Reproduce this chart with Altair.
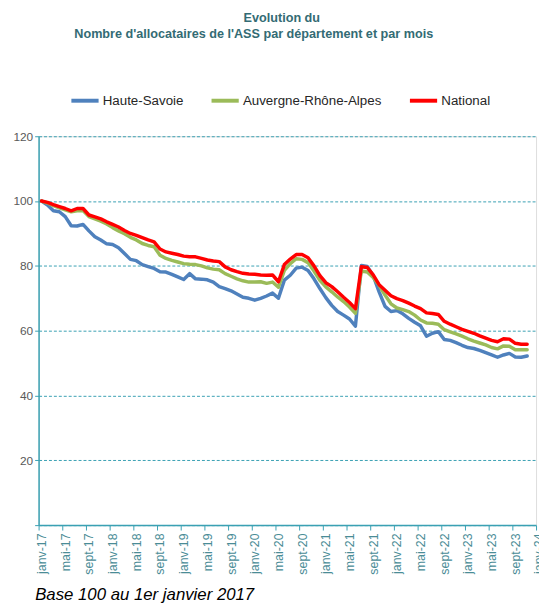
import altair as alt
import pandas as pd

title_lines = ["\u200b" + "\u00a0" * 16 + "Evolution du",
               "Nombre d'allocataires de l'ASS par département et par mois"]
footnote = "Base 100 au 1er janvier 2017"
series_names = ["Haute-Savoie", "Auvergne-Rhône-Alpes", "National"]
series_colors = ["#4f81bd", "#9bbb59", "#ff0000"]
tick_labels = ["janv-17", "mai-17", "sept-17", "janv-18", "mai-18", "sept-18",
               "janv-19", "mai-19", "sept-19", "janv-20", "mai-20", "sept-20",
               "janv-21", "mai-21", "sept-21", "janv-22", "mai-22", "sept-22",
               "janv-23", "mai-23", "sept-23", "janv-24"]
y_ticks = [0, 20, 40, 60, 80, 100, 120]

# monthly values, janv-17 .. nov-23 (base 100)
haute_savoie = [100, 98.8, 97.0, 96.7, 95.2, 92.4, 92.3, 92.8, 90.8, 89.0, 88.0, 86.8,
                86.6, 85.6, 83.8, 82.0, 81.6, 80.4, 79.8, 79.2, 78.2, 78.1, 77.4, 76.6,
                75.8, 77.6, 76.0, 75.9, 75.7, 75.0, 73.6, 73.0, 72.3, 71.3, 70.3, 70.0,
                69.4, 70.0, 70.7, 71.6, 70.0, 75.6, 77.1, 79.3, 79.6, 78.6, 76.0, 73.0,
                70.2, 67.8, 65.9, 64.8, 63.6, 61.4, 80.1, 79.8, 77.0, 72.0, 67.5, 65.9,
                66.2, 65.2, 63.8, 62.6, 61.5, 58.3, 59.2, 59.7, 57.3, 57.0, 56.3, 55.5,
                54.8, 54.5, 53.9, 53.2, 52.5, 51.8, 52.5, 53.0, 51.9, 51.8, 52.2]
auvergne = [100, 99.4, 98.6, 97.9, 97.3, 96.7, 97.0, 97.1, 95.2, 94.5, 93.8, 92.9,
            91.8, 90.8, 89.9, 88.8, 88.0, 86.9, 86.3, 85.9, 83.3, 82.3, 81.7, 81.2,
            80.7, 80.5, 80.4, 80.0, 79.4, 79.0, 78.8, 77.6, 76.8, 76.0, 75.4, 75.0,
            75.0, 75.1, 74.6, 75.0, 73.4, 78.6, 80.7, 82.2, 82.0, 81.0, 78.4, 75.5,
            73.5, 72.0, 70.4, 69.0, 67.3, 65.4, 78.4, 78.1, 76.4, 74.0, 71.0, 68.3,
            67.0, 66.5, 65.9, 64.8, 63.3, 62.4, 62.3, 62.0, 60.3, 59.6, 59.0, 58.3,
            57.5, 56.8, 56.2, 55.6, 54.8, 54.4, 55.3, 55.2, 54.1, 54.1, 54.1]
national = [100, 99.6, 98.9, 98.3, 97.7, 97.0, 97.7, 97.7, 95.7, 95.1, 94.5, 93.6,
            92.8, 92.0, 90.9, 90.0, 89.4, 88.7, 88.0, 87.4, 85.2, 84.3, 83.9, 83.5,
            83.0, 82.8, 82.8, 82.3, 81.8, 81.5, 81.3, 79.7, 78.8, 78.2, 77.7, 77.5,
            77.4, 77.2, 77.1, 77.2, 75.1, 80.4, 82.1, 83.5, 83.5, 82.5, 80.0, 77.0,
            74.8, 73.6, 72.0, 70.3, 68.7, 66.8, 79.7, 79.5, 77.2, 74.2, 72.5, 70.8,
            69.9, 69.3, 68.5, 67.6, 66.8, 65.5, 65.3, 65.0, 62.9, 62.0, 61.2, 60.4,
            59.8, 59.2, 58.4, 57.7, 57.0, 56.6, 57.5, 57.4, 56.1, 55.8, 55.8]

rows = []
for name, vals in zip(series_names, [haute_savoie, auvergne, national]):
    for i, v in enumerate(vals):
        rows.append({"serie": name, "mois": i + 0.5, "valeur": v})
df = pd.DataFrame(rows)

label_expr = "[" + ",".join("'%s'" % t for t in tick_labels) + "][round(datum.value/4)]"

TEAL = "#3aa1b3"
FONT = "Liberation Sans"

chart = alt.Chart(df).mark_line(strokeWidth=3.5, strokeJoin="round", strokeCap="round").encode(
    x=alt.X("mois:Q",
            scale=alt.Scale(domain=[0, 84], nice=False, zero=False),
            axis=alt.Axis(values=list(range(0, 85, 4)), labelExpr=label_expr,
                          labelAngle=270, labelFontSize=12.5, labelColor="#4a8c96",
                          labelFont=FONT, labelPadding=3, labelOffset=3,
                          tickSize=5, tickColor=TEAL, domainColor=TEAL, domainWidth=1.5,
                          grid=False, labelOverlap=False,
                          title=footnote, titleFont=FONT, titleFontSize=17,
                          titleFontStyle="italic", titleFontWeight="normal",
                          titleColor="#000000", titleAnchor="start", titleAlign="left",
                          titleBaseline="alphabetic", titleX=-4, titleY=75)),
    y=alt.Y("valeur:Q",
            scale=alt.Scale(domain=[0, 120], nice=False),
            axis=alt.Axis(values=y_ticks,
                          labelExpr="datum.value == 0 ? '' : datum.label",
                          labelFontSize=12, labelColor="#595959", labelFont=FONT,
                          labelPadding=2, tickSize=4, tickColor=TEAL,
                          domainColor=TEAL, domainWidth=1.5,
                          grid=True, gridColor=TEAL, gridDash=[3, 2], gridWidth=1,
                          title=None)),
    color=alt.Color("serie:N",
                    scale=alt.Scale(domain=series_names, range=series_colors),
                    legend=alt.Legend(title=None, orient="none", direction="horizontal",
                                      legendX=31, legendY=-52, padding=0,
                                      symbolType="stroke", symbolSize=760,
                                      symbolStrokeWidth=4, labelFontSize=13.5,
                                      labelFont=FONT, labelColor="#262626",
                                      labelOffset=2, columnPadding=20)),
).properties(
    width=504,
    height=394,
    title=alt.TitleParams(text=title_lines, frame="group", anchor="middle",
                          offset=45, dx=-34, font=FONT, fontSize=12.8,
                          fontWeight="bold", color="#336b74", lineHeight=16),
    autosize=alt.AutoSizeParams(type="none"),
    padding={"left": 31, "top": 126, "right": 3, "bottom": 77},
).configure_view(stroke=None).configure(background="white")

chart.save("out.html", embed_options={"renderer": "svg", "actions": False})
